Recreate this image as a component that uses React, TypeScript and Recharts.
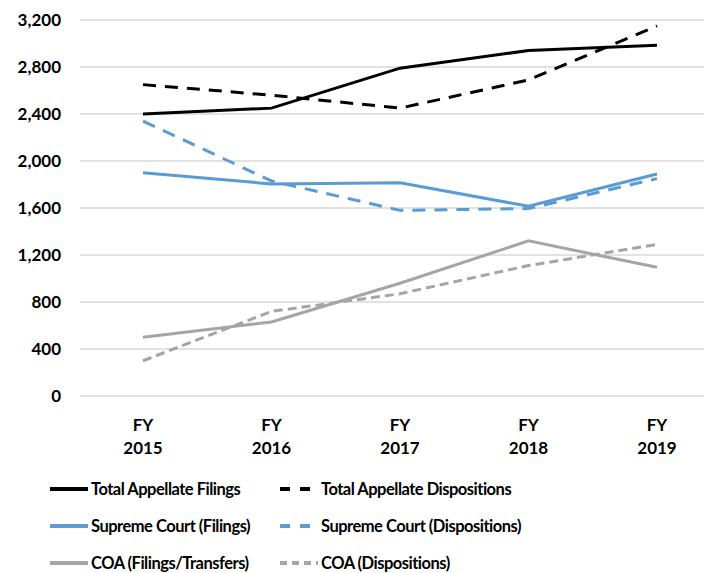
import { LineChart, Line, XAxis, YAxis, CartesianGrid, Legend } from 'recharts';

const years = ['FY 2015', 'FY 2016', 'FY 2017', 'FY 2018', 'FY 2019'];
const totalFilings = [2400, 2450, 2790, 2940, 2985];
const totalDispositions = [2650, 2560, 2450, 2690, 3150];
const supremeFilings = [1900, 1805, 1815, 1615, 1890];
const supremeDispositions = [2340, 1830, 1580, 1595, 1850];
const coaFilings = [500, 630, 960, 1320, 1095];
const coaDispositions = [300, 720, 870, 1110, 1290];
const yTicks = [0, 400, 800, 1200, 1600, 2000, 2400, 2800, 3200];

const series = [
  { key: 'totalFilings', name: 'Total Appellate Filings', color: '#000000', dash: undefined, values: totalFilings },
  { key: 'totalDispositions', name: 'Total Appellate Dispositions', color: '#000000', dash: '13 9', values: totalDispositions },
  { key: 'supremeFilings', name: 'Supreme Court (Filings)', color: '#5B9BD5', dash: undefined, values: supremeFilings },
  { key: 'supremeDispositions', name: 'Supreme Court (Dispositions)', color: '#5B9BD5', dash: '13 9', values: supremeDispositions },
  { key: 'coaFilings', name: 'COA (Filings/Transfers)', color: '#A5A5A5', dash: undefined, values: coaFilings },
  { key: 'coaDispositions', name: 'COA (Dispositions)', color: '#A5A5A5', dash: '9 5', values: coaDispositions },
];

const data = years.map((year, i) => {
  const row: Record<string, string | number> = { year };
  series.forEach((s) => { row[s.key] = s.values[i]; });
  return row;
});

const font = 'Lato, "Liberation Sans", sans-serif';

const YearTick = (props: any) => {
  const { x, y, payload } = props;
  const [fy, yr] = String(payload.value).split(' ');
  return (
    <g transform={`translate(${x},${y})`}>
      <text textAnchor="middle" fontFamily={font} fontWeight="bold" fontSize={17} fill="#000">
        <tspan x={0} dy={27}>{fy}</tspan>
        <tspan x={0} dy={23}>{yr}</tspan>
      </text>
    </g>
  );
};

const LegendBox = () => (
  <div style={{ display: 'grid', gridTemplateColumns: '230px 300px', rowGap: 14, paddingLeft: 50, paddingTop: 21, fontFamily: font, fontWeight: 'bold', fontSize: 16.5, letterSpacing: -0.5, color: '#000' }}>
    {series.map((s) => (
      <div key={s.key} style={{ display: 'flex', alignItems: 'center', height: 23 }}>
        <svg width={40} height={10} style={{ marginRight: 1 }}>
          <line x1={0} y1={5} x2={38} y2={5} stroke={s.color} strokeWidth={4} strokeDasharray={s.dash ? (s.dash === '9 5' ? '7 5' : '10 10') : undefined} />
        </svg>
        <span>{s.name}</span>
      </div>
    ))}
  </div>
);

export default function App() {
  return (
    <div style={{ position: 'absolute', left: 0, top: 0, background: '#fff' }}>
      <LineChart width={704} height={573} data={data} margin={{ top: 20, right: 0, left: 0, bottom: 0 }}>
        <CartesianGrid vertical={false} stroke="#d9d9d9" strokeWidth={1.5} />
        <XAxis dataKey="year" axisLine={false} tickLine={false} height={60} padding={{ left: 63, right: 47 }} tick={<YearTick />} interval={0} />
        <YAxis
          width={80}
          domain={[0, 3200]}
          ticks={yTicks}
          axisLine={false}
          tickLine={false}
          tickMargin={13}
          tickFormatter={(v: number) => v.toLocaleString('en-US')}
          tick={{ fontFamily: font, fontWeight: 'bold', fontSize: 17, fill: '#000' }}
        />
        <Legend verticalAlign="bottom" height={117} content={<LegendBox />} />
        {series.map((s) => (
          <Line
            key={s.key}
            type="linear"
            dataKey={s.key}
            name={s.name}
            stroke={s.color}
            strokeWidth={3}
            strokeDasharray={s.dash}
            dot={false}
            isAnimationActive={false}
          />
        ))}
      </LineChart>
    </div>
  );
}
